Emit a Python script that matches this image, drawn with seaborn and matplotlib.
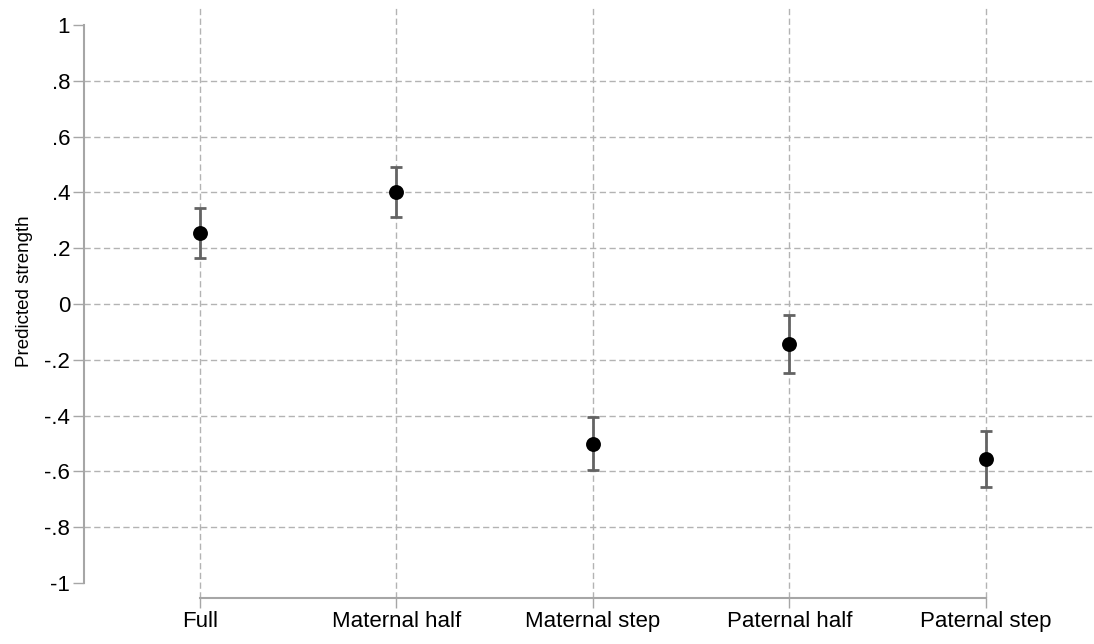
import matplotlib
matplotlib.use("Agg")
import matplotlib.pyplot as plt
import matplotlib.ticker as mticker
import seaborn as sns
import pandas as pd

# data
categories = ["Full", "Maternal half", "Maternal step", "Paternal half", "Paternal step"]
estimate = [0.253, 0.400, -0.501, -0.142, -0.556]
ci_low = [0.166, 0.312, -0.594, -0.246, -0.656]
ci_high = [0.343, 0.490, -0.405, -0.038, -0.454]
y_ticks = [1, 0.8, 0.6, 0.4, 0.2, 0, -0.2, -0.4, -0.6, -0.8, -1]

df = pd.DataFrame({"group": categories, "est": estimate, "lo": ci_low, "hi": ci_high})

sns.set_style("white")
plt.rcParams["font.family"] = ["Liberation Sans", "DejaVu Sans"]
plt.rcParams["text.color"] = "black"
plt.rcParams["axes.labelcolor"] = "black"

grey_axis = "#a6a6a6"
grey_grid = "#b3b3b3"
grey_bar = "#636363"

fig = plt.figure(figsize=(10.94, 6.44), dpi=100)
W, H = 1094, 644
ax = fig.add_axes([84 / W, 1 - 598 / H, (W - 84) / W, (598 - 8) / H])

x = list(range(len(categories)))

# grid lines (Stata style: no lines at axis ends)
for yv in y_ticks:
    if abs(yv) < 1:
        ax.axhline(yv, color=grey_grid, lw=1, dashes=(4.5, 2.5), zorder=0)
for xv in x:
    ax.axvline(xv, color=grey_grid, lw=1, dashes=(4.5, 2.5), zorder=0)

# confidence intervals
yerr = [[e - l for e, l in zip(df["est"], df["lo"])],
        [h - e for e, h in zip(df["est"], df["hi"])]]
ax.errorbar(x, df["est"], yerr=yerr, fmt="none", ecolor=grey_bar,
            elinewidth=2, capsize=4.5, capthick=2, zorder=2)

sns.scatterplot(x=x, y=df["est"], color="black", s=115, edgecolor="black",
                linewidth=0, zorder=3, ax=ax)

ax.set_xlim(-0.590, 4.550)
ax.set_ylim(-1.054, 1.061)

ax.set_xticks(x)
ax.set_xticklabels(categories)
ax.set_yticks(y_ticks)


def stata_fmt(v, pos):
    if abs(v) < 1e-9:
        return "0"
    s = f"{v:g}"
    return s.replace("0.", ".")


ax.yaxis.set_major_formatter(mticker.FuncFormatter(stata_fmt))

for side in ["top", "right"]:
    ax.spines[side].set_visible(False)
ax.spines["left"].set_bounds(-1, 1)
ax.spines["bottom"].set_bounds(0, 4)
for side in ["left", "bottom"]:
    ax.spines[side].set_color(grey_axis)
    ax.spines[side].set_linewidth(1.5)

ax.tick_params(axis="y", direction="out", length=8, width=1, color=grey_axis,
               labelsize=16, pad=2, left=True, labelcolor="black")
ax.tick_params(axis="x", direction="out", length=7.5, width=1, color=grey_axis,
               labelsize=16, pad=2, bottom=True, labelcolor="black")

ax.set_ylabel("Predicted strength", fontsize=13.5, labelpad=8, color="black")
ax.yaxis.label.set_y(0.52)
ax.set_xlabel("")
ax.patch.set_alpha(0)

fig.savefig("out.png", dpi=100)
